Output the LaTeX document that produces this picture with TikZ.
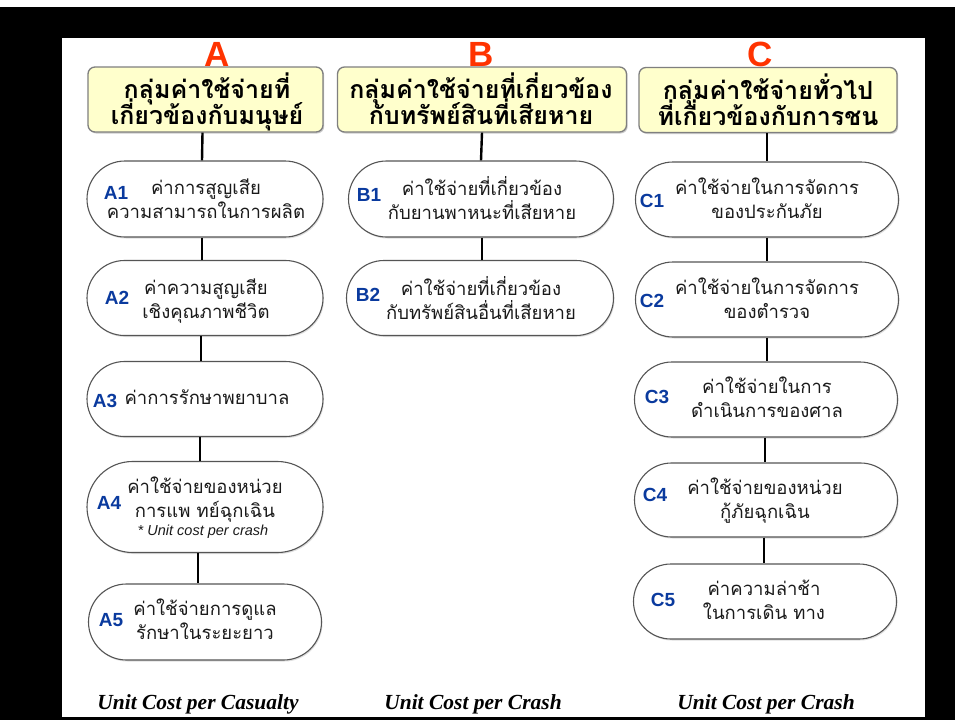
\documentclass[tikz,border=0pt]{standalone}
\usepackage{fontspec}
\setmainfont{Liberation Sans}
\newfontfamily\thaifont[Script=Thai]{Loma}
\newfontfamily\capfont{Liberation Serif}
\usetikzlibrary{shapes.misc,shadows}
\definecolor{lettercol}{HTML}{FF3300}
\definecolor{labcol}{HTML}{0A3A9E}
\definecolor{pillline}{HTML}{555555}
\definecolor{hdrline}{HTML}{7F7F7F}
\definecolor{hdrfill}{HTML}{FFFFCC}
\definecolor{txtcol}{HTML}{1A1A1A}
\tikzset{
  pill/.style={rounded rectangle, draw=pillline, line width=1.1pt, fill=white, inner sep=0pt,
    drop shadow={shadow xshift=1pt, shadow yshift=-1.5pt, opacity=0.25}},
  hdr/.style={draw=hdrline, line width=1.3pt, fill=hdrfill, rounded corners=7pt, inner sep=0pt,
    minimum height=65pt, drop shadow={shadow xshift=1.2pt, shadow yshift=-1.5pt, opacity=0.4}},
  thai/.style={font={\thaifont\fontsize{18.5}{24}\selectfont\lineskiplimit=-30pt}, align=center, inner sep=0pt, text=txtcol,
    execute at begin node={\rule{0pt}{14pt}}, execute at end node={\rule[-14pt]{0pt}{14pt}}},
  hdrtext/.style={font={\thaifont\bfseries\fontsize{25}{26}\selectfont\lineskiplimit=-30pt}, align=center, inner sep=0pt, text=black,
    execute at begin node={\rule{0pt}{16pt}}, execute at end node={\rule[-16pt]{0pt}{16pt}}},
  lab/.style={font=\bfseries\fontsize{19}{20}\selectfont, text=labcol, inner sep=0pt},
  letter/.style={font=\bfseries\fontsize{35}{36}\selectfont, text=lettercol, inner sep=0pt, anchor=base},
  foot/.style={font=\capfont\bfseries\itshape\fontsize{21.5}{22}\selectfont, inner sep=0pt, anchor=base},
  conn/.style={draw=black, line width=2.4pt}
}
\begin{document}
\begin{tikzpicture}[x=1pt,y=-1pt]
\useasboundingbox (0,0) rectangle (955,720);
\fill[white] (0,0) rectangle (955,720);
\fill[black] (0,7) rectangle (955,720);
\fill[white] (62,38) rectangle (925,717);

% letters
\node[letter] (LA) at (217,66) {A};
\node[letter] (LB) at (481,66) {B};
\node[letter] (LC) at (760,66) {C};

% headers
\node[hdr, minimum width=235pt] (hA) at (205.5,99.5) {};
\node[hdr, minimum width=289pt] (hB) at (482,99.5) {};
\node[hdr, minimum width=258pt] (hC) at (768,100) {};

% pills
\node[pill, minimum width=236pt, minimum height=76pt] (A1) at (205,199) {};
\node[pill, minimum width=236pt, minimum height=75pt] (A2) at (205,298) {};
\node[pill, minimum width=236pt, minimum height=75pt] (A3) at (205,399) {};
\node[pill, minimum width=236pt, minimum height=91pt] (A4) at (205,507) {};
\node[pill, minimum width=233pt, minimum height=76pt] (A5) at (205,622) {};
\node[pill, minimum width=265pt, minimum height=76pt] (B1) at (481,199) {};
\node[pill, minimum width=267pt, minimum height=75pt] (B2) at (480,298) {};
\node[pill, minimum width=263pt, minimum height=75pt] (C1) at (767,199.5) {};
\node[pill, minimum width=263pt, minimum height=75pt] (C2) at (767,299.5) {};
\node[pill, minimum width=263pt, minimum height=75pt] (C3) at (766,399.5) {};
\node[pill, minimum width=263pt, minimum height=74pt] (C4) at (766,500) {};
\node[pill, minimum width=263pt, minimum height=75pt] (C5) at (765,601.5) {};

% connectors
\draw[conn] ([xshift=-3pt]hA.south) -- ([xshift=-3pt]A1.north);
\draw[conn] ([xshift=-3pt]A1.south) -- ([xshift=-3pt]A2.north);
\draw[conn] ([xshift=-4pt]A2.south) -- ([xshift=-4pt]A3.north);
\draw[conn] ([xshift=-5pt]A3.south) -- ([xshift=-5pt]A4.north);
\draw[conn] ([xshift=-7pt]A4.south) -- ([xshift=-7pt]A5.north);
\draw[conn] (hB.south) -- (B1.north);
\draw[conn] ([xshift=1pt]B1.south) -- ([xshift=2pt]B2.north);
\draw[conn] ([xshift=-1pt]hC.south) -- (C1.north);
\draw[conn] (C1.south) -- (C2.north);
\draw[conn] (C2.south) -- ([xshift=1pt]C3.north);
\draw[conn] ([xshift=-1pt]C3.south) -- ([xshift=-1pt]C4.north);
\draw[conn] ([xshift=-2pt]C4.south) -- ([xshift=-1pt]C5.north);

% header texts
\node[hdrtext] (tA) at (207,107) {กลุ่มค่าใช้จ่ายที่\\เกี่ยวข้องกับมนุษย์};
\node[hdrtext] (tB) at (481,107) {กลุ่มค่าใช้จ่ายที่เกี่ยวข้อง\\กับทรัพย์สินที่เสียหาย};
\node[hdrtext] (tC) at (768,107.5) {กลุ่มค่าใช้จ่ายทั่วไป\\ที่เกี่ยวข้องกับการชน};

% pill texts
\node[thai] (tA1) at (206,206) {ค่าการสูญเสีย\\ความสามารถในการผลิต};
\node[thai] (tA2) at (206,306) {ค่าความสูญเสีย\\เชิงคุณภาพชีวิต};
\node[thai] (tA3) at (207,404) {ค่าการรักษาพยาบาล};
\node[thai] (tA4) at (205,504.5) {ค่าใช้จ่ายของหน่วย\\การแพ ทย์ฉุกเฉิน};
\node[font=\itshape\fontsize{14.5}{15}\selectfont, inner sep=0pt, text=txtcol] (nA4) at (203,532) {* Unit cost per crash};
\node[thai] (tA5) at (205,626.5) {ค่าใช้จ่ายการดูแล\\รักษาในระยะยาว};
\node[thai] (tB1) at (482,204.5) {ค่าใช้จ่ายที่เกี่ยวข้อง\\กับยานพาหนะที่เสียหาย};
\node[thai] (tB2) at (481,304.5) {ค่าใช้จ่ายที่เกี่ยวข้อง\\กับทรัพย์สินอื่นที่เสียหาย};
\node[thai] (tC1) at (767,205.5) {ค่าใช้จ่ายในการจัดการ\\ของประกันภัย};
\node[thai] (tC2) at (767,305) {ค่าใช้จ่ายในการจัดการ\\ของตำรวจ};
\node[thai] (tC3) at (767,404) {ค่าใช้จ่ายในการ\\ดำเนินการของศาล};
\node[thai] (tC4) at (765,505.5) {ค่าใช้จ่ายของหน่วย\\กู้ภัยฉุกเฉิน};
\node[thai] (tC5) at (764,607) {ค่าความล่าช้า\\ในการเดิน ทาง};

% labels
\node[lab] (lA1) at (116,193) {A1};
\node[lab] (lA2) at (117,298) {A2};
\node[lab] (lA3) at (105,401) {A3};
\node[lab] (lA4) at (109,503) {A4};
\node[lab] (lA5) at (111,620) {A5};
\node[lab] (lB1) at (369,195) {B1};
\node[lab] (lB2) at (368,295) {B2};
\node[lab] (lC1) at (652,201) {C1};
\node[lab] (lC2) at (652,301) {C2};
\node[lab] (lC3) at (657,397) {C3};
\node[lab] (lC4) at (655,495) {C4};
\node[lab] (lC5) at (663,600) {C5};

% footers
\node[foot] (fA) at (198,709) {Unit Cost per Casualty};
\node[foot] (fB) at (473,709) {Unit Cost per Crash};
\node[foot] (fC) at (766,709) {Unit Cost per Crash};
\end{tikzpicture}
\end{document}
